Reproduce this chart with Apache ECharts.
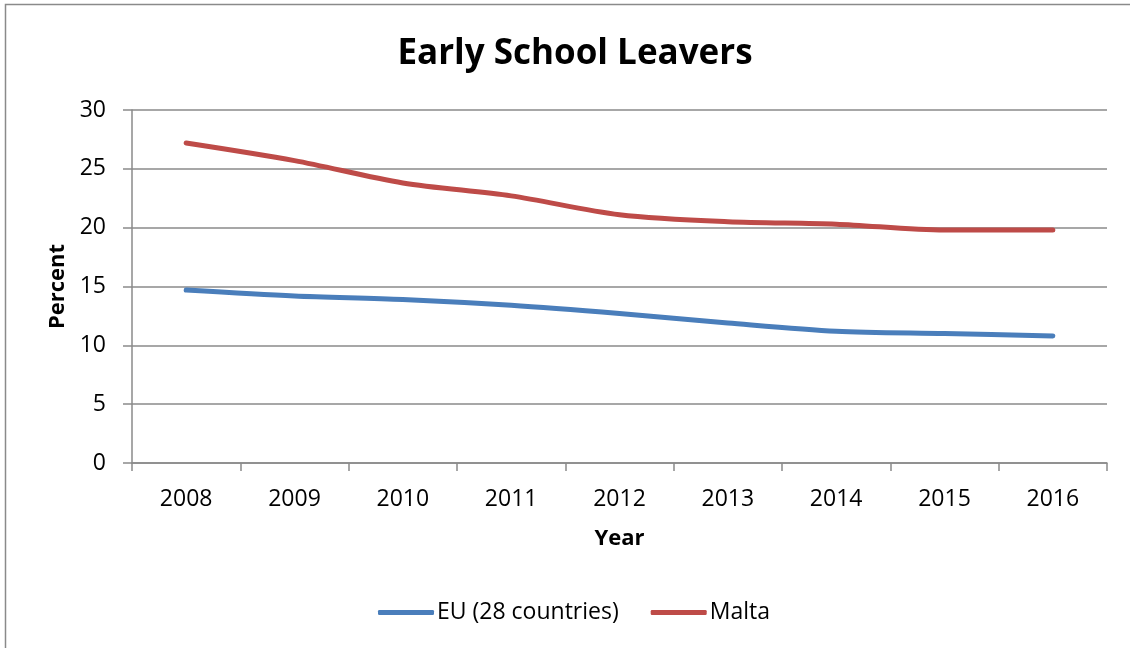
<!DOCTYPE html>
<html>
<head>
<meta charset="utf-8">
<title>Early School Leavers</title>
<script src="https://cdn.jsdelivr.net/npm/echarts@6/dist/echarts.min.js"></script>
<style>
  html, body { margin: 0; padding: 0; background: #ffffff; }
  #chart { width: 1130px; height: 648px; }
</style>
</head>
<body>
<div id="chart"></div>
<script>
// Early school leavers (% of 18-24 year olds), 2008-2016
const years = ['2008', '2009', '2010', '2011', '2012', '2013', '2014', '2015', '2016'];
const euValues = [14.7, 14.2, 13.9, 13.4, 12.7, 11.9, 11.2, 11.0, 10.8];
const maltaValues = [27.2, 25.7, 23.8, 22.7, 21.1, 20.5, 20.3, 19.8, 19.8];
const seriesNames = ['EU (28 countries)', 'Malta'];
const yTicks = { min: 0, max: 30, interval: 5 };

const FONT = '"Open Sans", "Noto Sans", sans-serif';
const GRID_COLOR = '#8a8a8a';

const chart = echarts.init(document.getElementById('chart'), null, { renderer: 'canvas' });

chart.setOption({
  backgroundColor: '#ffffff',
  animation: false,
  textStyle: { fontFamily: FONT, color: '#000000' },
  title: {
    text: 'Early School Leavers',
    left: 570,
    textAlign: 'center',
    top: 32,
    textStyle: { fontFamily: FONT, fontWeight: 'bold', fontSize: 35, color: '#000000' }
  },
  graphic: [{
    type: 'polyline',
    silent: true,
    shape: { points: [[5.5, 660], [5.5, 4.5], [1140, 4.5]] },
    style: { stroke: GRID_COLOR, lineWidth: 1.5, fill: null }
  }],
  legend: {
    left: 373,
    top: 596,
    itemWidth: 56,
    itemHeight: 5,
    itemGap: 32,
    textStyle: { fontFamily: FONT, fontSize: 23, color: '#000000', padding: [0, 0, 0, -2] },
    data: seriesNames.map((n) => ({ name: n, icon: 'roundRect' }))
  },
  grid: { left: 132, right: 23, top: 110, bottom: 185, containLabel: false },
  xAxis: {
    type: 'category',
    data: years,
    boundaryGap: true,
    name: 'Year',
    nameLocation: 'middle',
    nameGap: 65,
    nameTextStyle: { fontFamily: FONT, fontWeight: 'bold', fontSize: 22, color: '#000000' },
    axisLine: { show: true, lineStyle: { color: GRID_COLOR, width: 1.5 } },
    axisTick: { show: true, inside: false, length: 8, alignWithLabel: false, lineStyle: { color: GRID_COLOR, width: 1.5 } },
    axisLabel: { margin: 25, fontFamily: FONT, fontSize: 23, color: '#000000' },
    splitLine: { show: false }
  },
  yAxis: {
    type: 'value',
    min: yTicks.min,
    max: yTicks.max,
    interval: yTicks.interval,
    name: 'Percent',
    nameLocation: 'middle',
    nameGap: 63,
    nameRotate: 90,
    nameTextStyle: { fontFamily: FONT, fontWeight: 'bold', fontSize: 22, color: '#000000' },
    axisLine: { show: true, lineStyle: { color: GRID_COLOR, width: 1.5 } },
    axisTick: { show: true, inside: false, length: 9, lineStyle: { color: GRID_COLOR, width: 1.5 } },
    axisLabel: { margin: 26, fontFamily: FONT, fontSize: 23, color: '#000000' },
    splitLine: { show: true, lineStyle: { color: GRID_COLOR, width: 1.5 } }
  },
  series: [
    {
      name: seriesNames[0],
      type: 'line',
      data: euValues,
      smooth: 0.3,
      showSymbol: false,
      symbol: 'none',
      color: '#4A7EBB',
      lineStyle: { color: '#4A7EBB', width: 5, cap: 'round', join: 'round' }
    },
    {
      name: seriesNames[1],
      type: 'line',
      data: maltaValues,
      smooth: 0.3,
      showSymbol: false,
      symbol: 'none',
      color: '#BE4B48',
      lineStyle: { color: '#BE4B48', width: 5, cap: 'round', join: 'round' }
    }
  ]
});
</script>
</body>
</html>
